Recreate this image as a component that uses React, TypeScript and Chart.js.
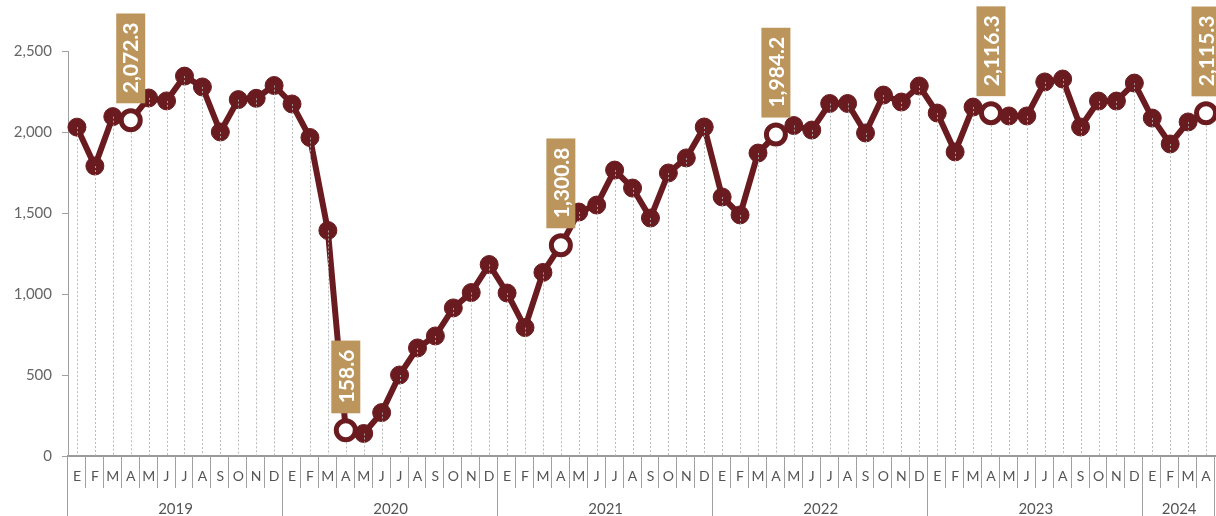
import React, { useEffect, useRef } from 'react';
import { Chart, registerables } from 'chart.js';

Chart.register(...registerables);

const monthLetters = ['E', 'F', 'M', 'A', 'M', 'J', 'J', 'A', 'S', 'O', 'N', 'D'];
const years = ['2019', '2020', '2021', '2022', '2023', '2024'];
const monthsPerYear = [12, 12, 12, 12, 12, 4];

const values2019 = [2030, 1790, 2095, 2072.3, 2210, 2192, 2345, 2278, 2000, 2200, 2208, 2287];
const values2020 = [2173, 1966, 1392, 158.6, 139, 268, 500, 667, 741, 914, 1009, 1182];
const values2021 = [1006, 793, 1133, 1300.8, 1506, 1549, 1765, 1654, 1469, 1747, 1840, 2031];
const values2022 = [1599, 1488, 1870, 1984.2, 2040, 2012, 2176, 2176, 1994, 2228, 2185, 2284];
const values2023 = [2117, 1877, 2154, 2116.3, 2099, 2099, 2309, 2327, 2031, 2191, 2191, 2302];
const values2024 = [2086, 1926, 2062, 2115.3];

const highlightMonth = 3; // April of every year is labelled

const yTicks = [0, 500, 1000, 1500, 2000, 2500];

const LINE = '#6a1b1f';
const BOX = '#bc955c';
const FONT = 'Lato, "Noto Sans", sans-serif';

export default function App() {
  const ref = useRef<HTMLCanvasElement | null>(null);

  useEffect(() => {
    document.body.style.margin = '0';
    const values = [...values2019, ...values2020, ...values2021, ...values2022, ...values2023, ...values2024];
    const labels: string[] = [];
    const yearStart: number[] = [];
    let idx = 0;
    monthsPerYear.forEach((n) => {
      yearStart.push(idx);
      for (let m = 0; m < n; m++) labels.push(monthLetters[m]);
      idx += n;
    });
    const isHi = (i: number) => {
      let s = 0;
      for (let k = 0; k < monthsPerYear.length; k++) {
        if (i < s + monthsPerYear[k]) return i - s === highlightMonth;
        s += monthsPerYear[k];
      }
      return false;
    };

    const decor = {
      id: 'decor',
      afterDatasetsDraw(chart: any) {
        const { ctx, chartArea } = chart;
        const meta = chart.getDatasetMeta(0);
        ctx.save();
        ctx.strokeStyle = 'rgba(175,175,175,0.85)';
        ctx.lineWidth = 1;
        ctx.setLineDash([2, 2]);
        meta.data.forEach((pt: any, i: number) => {
          const sy = isHi(i) ? pt.y + 12 : pt.y;
          const xx = Math.round(pt.x) + 0.5;
          ctx.beginPath();
          ctx.moveTo(xx, sy);
          ctx.lineTo(xx, chartArea.bottom);
          ctx.stroke();
        });
        ctx.setLineDash([]);
        ctx.font = `bold 21px ${FONT}`;
        meta.data.forEach((pt: any, i: number) => {
          if (!isHi(i)) return;
          const txt = values[i].toLocaleString('en-US', { minimumFractionDigits: 1, maximumFractionDigits: 1 });
          const tw = ctx.measureText(txt).width;
          const h = tw + 19;
          const w = 29;
          const bottom = pt.y - 17;
          ctx.fillStyle = BOX;
          ctx.fillRect(pt.x - w / 2, bottom - h, w, h);
          ctx.save();
          ctx.translate(pt.x, bottom - 10);
          ctx.rotate(-Math.PI / 2);
          ctx.fillStyle = '#ffffff';
          ctx.textAlign = 'left';
          ctx.textBaseline = 'middle';
          ctx.fillText(txt, 0, 1);
          ctx.restore();
        });
        ctx.restore();
      },
      afterDraw(chart: any) {
        const { ctx, chartArea } = chart;
        const x = chart.scales.x;
        const half = (x.getPixelForValue(1) - x.getPixelForValue(0)) / 2;
        const base = chartArea.bottom;
        ctx.save();
        ctx.strokeStyle = '#a0a0a0';
        ctx.lineWidth = 1;
        const total = labels.length;
        for (let b = 0; b <= total; b++) {
          const px = Math.round(b < total ? x.getPixelForValue(b) - half : x.getPixelForValue(total - 1) + half) - 0.5;
          const isYear = yearStart.includes(b) || b === total;
          ctx.beginPath();
          ctx.moveTo(px, base);
          ctx.lineTo(px, isYear ? base + 62 : base + 32);
          ctx.stroke();
        }
        ctx.fillStyle = '#555';
        ctx.font = `15px ${FONT}`;
        ctx.textAlign = 'center';
        ctx.textBaseline = 'middle';
        years.forEach((yr, k) => {
          const s = yearStart[k];
          const e = s + monthsPerYear[k] - 1;
          const cx = (x.getPixelForValue(s) + x.getPixelForValue(e)) / 2;
          ctx.fillText(yr, cx, base + 53);
        });
        ctx.restore();
      },
    };

    const chart = new Chart(ref.current as HTMLCanvasElement, {
      type: 'line',
      data: {
        labels,
        datasets: [
          {
            data: values,
            borderColor: LINE,
            borderWidth: 6,
            pointRadius: values.map((_, i) => (isHi(i) ? 9.5 : 9)),
            pointBorderWidth: values.map((_, i) => (isHi(i) ? 5 : 1)),
            pointBackgroundColor: values.map((_, i) => (isHi(i) ? '#ffffff' : LINE)),
            pointBorderColor: LINE,
            tension: 0,
            clip: false as any,
          },
        ],
      },
      options: {
        animation: false,
        responsive: true,
        maintainAspectRatio: false,
        layout: { autoPadding: false, padding: { top: 51, right: 1, left: 0, bottom: 0 } },
        plugins: { legend: { display: false }, tooltip: { enabled: false } },
        scales: {
          x: {
            offset: true,
            grid: { display: false, drawTicks: false },
            border: { display: true, color: '#9a9a9a', width: 2 },
            ticks: {
              autoSkip: false,
              maxRotation: 0,
              padding: 12,
              color: '#555',
              font: { family: FONT, size: 14 },
            },
            afterFit: (s: any) => {
              s.height = 60;
              s.paddingLeft = 0;
              s.paddingRight = 0;
            },
          },
          y: {
            min: 0,
            max: 2500,
            afterBuildTicks: (s: any) => {
              s.ticks = yTicks.map((v) => ({ value: v }));
            },
            grid: { drawOnChartArea: false, drawTicks: true, tickLength: 6, color: '#a0a0a0' },
            border: { display: true, color: '#a0a0a0', width: 1 },
            ticks: {
              padding: 10,
              color: '#666',
              font: { family: FONT, size: 15 },
              callback: (v: any) => Number(v).toLocaleString('en-US'),
            },
            afterFit: (s: any) => {
              s.width = 68;
              s.paddingTop = 0;
              s.paddingBottom = 0;
            },
          },
        },
      },
      plugins: [decor],
    });
    return () => chart.destroy();
  }, []);

  return (
    <div style={{ position: 'absolute', left: 0, top: 0, width: 1216, height: 516 }}>
      <canvas ref={ref} />
    </div>
  );
}
